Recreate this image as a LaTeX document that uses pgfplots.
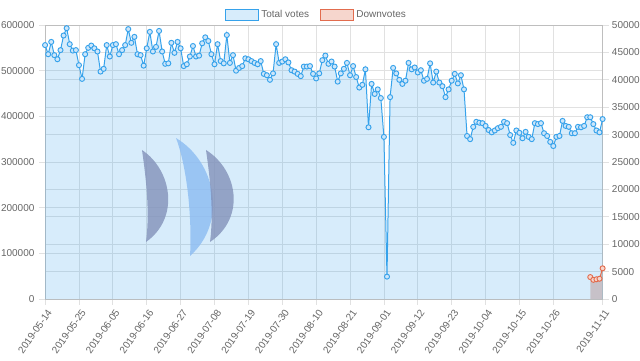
\documentclass[border=0pt]{standalone}
\usepackage{pgfplots}
\usepackage{pgfplotstable}
\pgfplotsset{compat=1.18}
\usepackage{fontspec}
\setmainfont{Liberation Sans}
\definecolor{tvblue}{RGB}{54,162,235}
\definecolor{tvmark}{RGB}{205,230,250}
\definecolor{dvred}{RGB}{226,108,78}
\definecolor{dvfill}{RGB}{236,201,192}
\definecolor{dvlegfill}{RGB}{246,214,205}
\definecolor{tvlegfill}{RGB}{215,236,251}
\definecolor{gridc}{RGB}{225,225,225}
\definecolor{axc}{RGB}{190,190,190}
\definecolor{txt}{RGB}{102,102,102}
\definecolor{logogray}{RGB}{130,145,185}
\definecolor{logoblue}{RGB}{140,188,242}

\pgfplotstableread{
x y
0 556000
1 536000
2 563000
3 534000
4 525000
5 545000
6 577000
7 593000
8 558000
9 544000
10 545000
11 512000
12 482000
13 536000
14 550000
15 555000
16 549000
17 542000
18 498000
19 504000
20 556000
21 531000
22 556000
23 558000
24 536000
25 545000
26 556000
27 591000
28 561000
29 574000
30 536000
31 534000
32 511000
33 549000
34 585000
35 542000
36 552000
37 587000
38 542000
39 515000
40 516000
41 561000
42 539000
43 563000
44 549000
45 510000
46 514000
47 531000
48 554000
49 531000
50 533000
51 560000
52 573000
53 565000
54 536000
55 514000
56 558000
57 521000
58 516000
59 578000
60 517000
61 534000
62 500000
63 506000
64 510000
65 527000
66 525000
67 521000
68 517000
69 514000
70 521000
71 493000
72 490000
73 480000
74 494000
75 558000
76 517000
77 520000
78 525000
79 518000
80 501000
81 498000
82 493000
83 488000
84 509000
85 509000
86 510000
87 493000
88 483000
89 494000
90 523000
91 533000
92 515000
93 520000
94 509000
95 476000
96 494000
97 504000
98 517000
99 490000
100 510000
101 486000
102 463000
103 469000
104 503000
105 376000
106 471000
107 449000
108 459000
109 440000
110 355000
111 49000
112 442000
113 506000
114 494000
115 480000
116 471000
117 478000
118 517000
119 503000
120 507000
121 496000
122 501000
123 478000
124 482000
125 516000
126 474000
127 498000
128 474000
129 466000
130 442000
131 459000
132 478000
133 493000
134 472000
135 490000
136 459000
137 357000
138 350000
139 377000
140 388000
141 386000
142 385000
143 379000
144 370000
145 365000
146 369000
147 374000
148 377000
149 388000
150 385000
151 359000
152 342000
153 369000
154 364000
155 352000
156 366000
157 355000
158 350000
159 385000
160 383000
161 385000
162 363000
163 357000
164 344000
165 335000
166 355000
167 357000
168 390000
169 379000
170 377000
171 363000
172 363000
173 377000
174 376000
175 379000
176 398000
177 398000
178 383000
179 369000
180 365000
181 394000
}\totalvotes

\pgfplotstableread{
x y
177 4000
178 3500
179 3600
180 3700
181 5600
}\downvotes

\pgfplotsset{
  base/.style={
    at={(33.825pt,46.5pt)}, anchor=south west,
    scale only axis, width=418.125pt, height=205.5pt,
    xmin=0, xmax=181,
    tick label style={font=\fontsize{7.5}{9}\selectfont, text=txt},
    /pgf/number format/assume math mode=true,
    /pgf/number format/fixed, /pgf/number format/1000 sep={},
    scaled y ticks=false,
    major tick length=4.5pt, tick align=outside,
    tick style={gridc, line width=0.6pt},
    grid style={gridc, line width=0.6pt},
    axis line style={axc, line width=0.6pt},
  }
}

\begin{document}
\begin{tikzpicture}
\useasboundingbox (0,0) rectangle (480pt,270.75pt);

% right axis: grid and ticks, downvote area
\begin{axis}[base, ymin=0, ymax=50000,
  ytick={0,5000,...,50000},
  ymajorgrids,
  axis y line*=right, axis x line=none,
  yticklabel style={anchor=west, xshift=-1pt},
]
\addplot[draw=none, fill=dvfill, forget plot] table {\downvotes} \closedcycle;
\end{axis}

% left axis: total votes
\begin{axis}[base, ymin=0, ymax=600000,
  ytick={0,100000,...,600000},
  xtick={0,11,22,33,44,55,66,77,88,99,110,121,132,143,154,165,181},
  xticklabels={2019-05-14,2019-05-25,2019-06-05,2019-06-16,2019-06-27,2019-07-08,2019-07-19,2019-07-30,2019-08-10,2019-08-21,2019-09-01,2019-09-12,2019-09-23,2019-10-04,2019-10-15,2019-10-26,2019-11-11},
  xticklabel style={rotate=55, anchor=north east, xshift=2pt, yshift=1pt},
  ytick pos=left, xtick pos=bottom,
  xmajorgrids, ymajorgrids,
  legend style={at={(axis description cs:0.487,1.036)}, anchor=center,
    draw=none, fill=none, legend columns=2,
    font=\fontsize{7.5}{9}\selectfont, text=txt,
    /tikz/every even column/.style={column sep=6pt}},
]
\addplot[draw=none, fill=tvblue, fill opacity=0.2, forget plot] table {\totalvotes} \closedcycle;
\addplot[tvblue, line width=0.75pt, mark=*, mark size=1.9pt,
  mark options={draw=tvblue, fill=tvmark, line width=0.7pt}, forget plot] table {\totalvotes};
\addlegendimage{legend image code/.code={\draw[draw=tvblue,fill=tvlegfill,line width=0.75pt] (0pt,-4.3pt) rectangle (24.75pt,4.3pt);}}
\addlegendentry{Total votes}
\addlegendimage{legend image code/.code={\draw[draw=dvred,fill=dvlegfill,line width=0.75pt] (0pt,-4.3pt) rectangle (24.75pt,4.3pt);}}
\addlegendentry{Downvotes}
\end{axis}

% downvote line on right scale
\begin{axis}[base, ymin=0, ymax=50000, hide axis]
\addplot[dvred, line width=0.75pt, mark=*, mark size=1.9pt,
  mark options={draw=dvred, fill=dvlegfill, line width=0.7pt}] table {\downvotes};
\end{axis}

% watermark logo
\begin{scope}[x=0.75pt, y=-0.75pt, shift={(0,270.75pt)}, fill opacity=0.8]
\fill[logogray] (142,150) .. controls (172,170) and (180,218) .. (146,242)
  .. controls (150,212) and (146,178) .. cycle;
\fill[logoblue] (176,138) .. controls (216,162) and (228,222) .. (190,256)
  .. controls (192,222) and (188,170) .. cycle;
\fill[logogray] (206,150) .. controls (238,170) and (246,218) .. (210,242)
  .. controls (214,212) and (210,178) .. cycle;
\end{scope}
\end{tikzpicture}
\end{document}
